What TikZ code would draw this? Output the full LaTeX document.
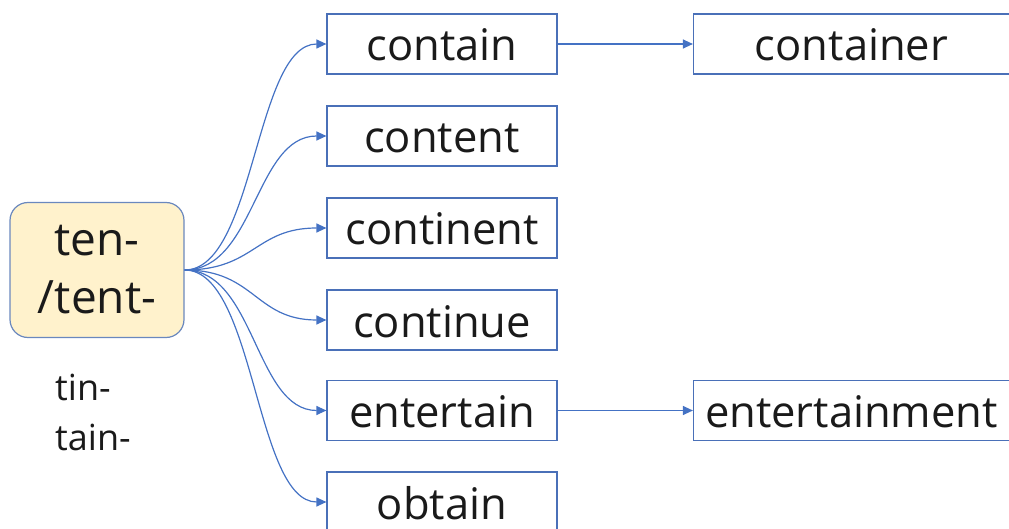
\documentclass[tikz,border=0pt]{standalone}
\usepackage{fontspec}
\setmainfont{Open Sans}
\usetikzlibrary{arrows.meta}
\definecolor{lineblue}{HTML}{4472C4}
\definecolor{boxblue}{HTML}{4A70B8}
\definecolor{rootfill}{HTML}{FFF2CC}
\definecolor{rootborder}{HTML}{6A88BE}
\definecolor{txt}{HTML}{1A1A1A}
\tikzset{
  wordbox/.style={draw=boxblue, line width=1.2pt, rectangle, inner sep=0pt,
    minimum height=60pt, text height=34pt, text depth=0pt, text=txt,
    font=\fontsize{43.5}{50}\selectfont},
  rootbox/.style={draw=rootborder, fill=rootfill, line width=1.2pt, rounded corners=18pt,
    minimum width=174pt, minimum height=135pt, inner sep=0pt, align=center, text=txt,
    font=\fontsize{46}{58}\selectfont},
  sidetext/.style={inner sep=0pt, anchor=base west, text=txt, font=\fontsize{36}{40}\selectfont},
  arr/.style={draw=lineblue, line width=1.2pt, -{Triangle[length=10pt,width=9pt]}}
}
\begin{document}
\begin{tikzpicture}[x=1pt,y=-1pt]
\useasboundingbox (0,0) rectangle (1009,529);
\clip (0,0) rectangle (1009,529);
\node[rootbox] (root) at (97,270) {ten-\\/tent-};
\node[sidetext] (tin) at (55,400) {tin-};
\node[sidetext] (tain) at (55,450) {tain-};
\node[wordbox, minimum width=230pt] (contain) at (442,44) {contain};
\node[wordbox, minimum width=230pt] (content) at (442,136) {content};
\node[wordbox, minimum width=230pt] (continent) at (442,228) {continent};
\node[wordbox, minimum width=230pt] (continue) at (442,320) {continue};
\node[wordbox, minimum width=230pt] (entertain) at (442,410.5) {entertain};
\node[wordbox, minimum width=230pt] (obtain) at (442,502) {obtain};
\node[wordbox, minimum width=316pt] (container) at (851.5,44) {container};
\node[wordbox, minimum width=316pt] (entertainment) at (851.5,410.5) {entertainment};
\foreach \t/\y in {contain/44, content/136, continent/228, continue/320, entertain/410.5, obtain/502}
  \draw[arr] (root.east) .. controls (255,270) and (255,\y) .. (\t.west);
\draw[arr] (contain.east) -- (container.west);
\draw[arr] (entertain.east) -- (entertainment.west);
\end{tikzpicture}
\end{document}
